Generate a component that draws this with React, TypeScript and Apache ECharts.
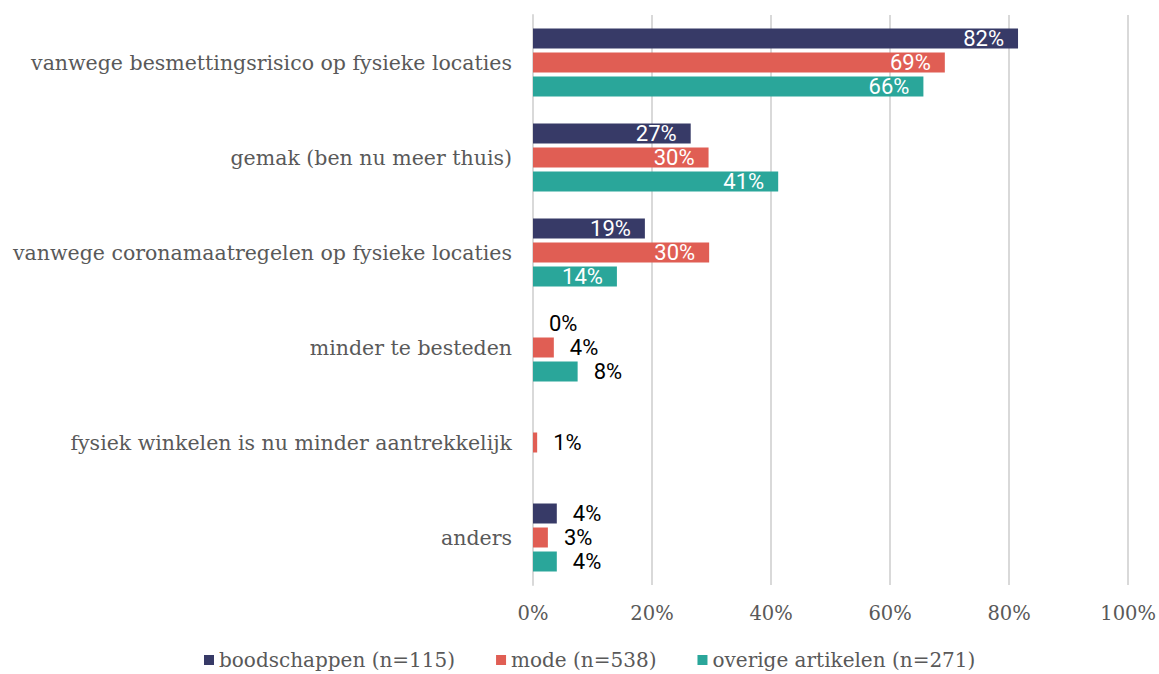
import React, { useEffect, useRef } from "react";
import * as echarts from "echarts";

const categories = [
  "vanwege besmettingsrisico op fysieke locaties",
  "gemak (ben nu meer thuis)",
  "vanwege coronamaatregelen op fysieke locaties",
  "minder te besteden",
  "fysiek winkelen is nu minder aantrekkelijk",
  "anders",
];
const boodschappen: (number | null)[] = [81.5, 26.5, 18.8, 0, null, 4.0];
const mode: (number | null)[] = [69.2, 29.5, 29.6, 3.5, 0.7, 2.5];
const overige: (number | null)[] = [65.6, 41.2, 14.1, 7.5, null, 4.0];
const seriesNames = ["boodschappen (n=115)", "mode (n=538)", "overige artikelen (n=271)"];
const colors = ["#373a67", "#e05e54", "#2aa69a"];
const xTicks = [0, 20, 40, 60, 80, 100];

const serif = "DejaVu Serif";

function buildData(vals: (number | null)[]) {
  return vals.map((v) => {
    if (v === null) return { value: "-", label: { show: false } };
    const inside = v >= 10;
    return {
      value: v,
      label: {
        show: true,
        position: inside ? "insideRight" : "right",
        distance: inside ? 14 : 16,
        color: inside ? "#ffffff" : "#000000",
      },
    };
  });
}

export default function App() {
  const ref = useRef<HTMLDivElement>(null);
  useEffect(() => {
    const chart = echarts.init(ref.current!, undefined, { renderer: "svg" });
    const all = [boodschappen, mode, overige];
    chart.setOption({
      animation: false,
      grid: { left: 533, right: 30, top: 15, bottom: 89, containLabel: false },
      legend: {
        data: seriesNames,
        left: 204,
        top: 649,
        itemWidth: 10,
        itemHeight: 10,
        itemGap: 41,
        icon: "rect",
        padding: 0,
        textStyle: { fontFamily: serif, fontSize: 20, color: "#595959", lineHeight: 22 },
      },
      xAxis: {
        type: "value",
        min: xTicks[0],
        max: xTicks[xTicks.length - 1],
        interval: 20,
        axisLine: { show: false },
        axisTick: { show: false },
        splitLine: { lineStyle: { color: "#d9d9d9", width: 2 } },
        axisLabel: {
          formatter: (v: number) => v + "%",
          fontFamily: serif,
          fontSize: 19.5,
          color: "#595959",
          margin: 18,
        },
      },
      yAxis: {
        type: "category",
        data: categories,
        inverse: true,
        axisLine: { show: true, lineStyle: { color: "#d9d9d9", width: 2 } },
        axisTick: { show: false },
        axisLabel: {
          fontFamily: serif,
          fontSize: 20.5,
          color: "#595959",
          margin: 21,
        },
      },
      series: all.map((vals, i) => ({
        name: seriesNames[i],
        type: "bar",
        data: buildData(vals),
        barWidth: 20,
        barGap: "20%",
        itemStyle: { color: colors[i] },
        label: {
          formatter: (p: any) => Math.round(p.value) + "%",
          fontFamily: "Roboto",
          fontSize: 22,
        },
      })),
    });
    return () => chart.dispose();
  }, []);
  return (
    <div
      ref={ref}
      style={{ position: "fixed", left: 0, top: 0, width: 1159, height: 674, background: "#fff" }}
    />
  );
}
